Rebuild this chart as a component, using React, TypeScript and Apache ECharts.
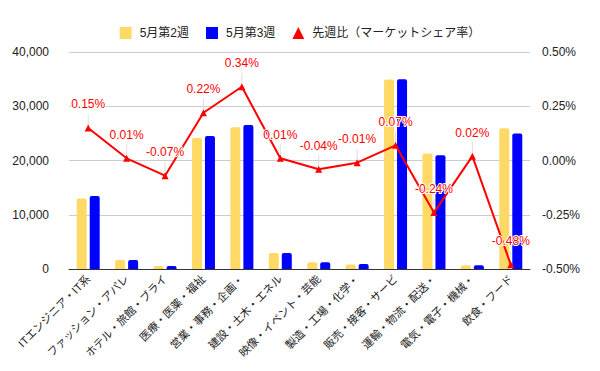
import React, { useEffect, useRef } from "react";
import * as echarts from "echarts";

const categories = [
  "ITエンジニア・IT系",
  "ファッション・アパレ",
  "ホテル・旅館・ブライ",
  "医療・医薬・福祉",
  "営業・事務・企画・",
  "建設・土木・エネル",
  "映像・イベント・芸能",
  "製造・工場・化学・",
  "販売・接客・サービ",
  "運輸・物流・配送・",
  "電気・電子・機械・",
  "飲食・フード",
];
const week2 = [13000, 1650, 550, 24150, 26150, 2950, 1250, 850, 34950, 21300, 700, 25950];
const week3 = [13450, 1650, 550, 24500, 26550, 2950, 1250, 900, 35000, 20950, 700, 25000];
const share = [0.15, 0.01, -0.07, 0.22, 0.34, 0.01, -0.04, -0.01, 0.07, -0.24, 0.02, -0.48];
const seriesNames = ["5月第2週", "5月第3週", "先週比（マーケットシェア率）"];

const FONT = "Arial, 'Liberation Sans', 'Noto Sans CJK JP', sans-serif";

export default function App() {
  const ref = useRef<HTMLDivElement>(null);
  useEffect(() => {
    if (!ref.current) return;
    const chart = echarts.init(ref.current, undefined, { renderer: "svg" });
    chart.setOption({
      animation: false,
      textStyle: { fontFamily: FONT },
      legend: {
        top: 22,
        left: "center",
        itemWidth: 12,
        itemHeight: 12,
        itemGap: 17,
        textStyle: { fontSize: 12, color: "#222", padding: [0, 0, 0, 3], fontFamily: FONT },
        data: [
          { name: seriesNames[0], icon: "rect" },
          { name: seriesNames[1], icon: "rect" },
          { name: seriesNames[2], icon: "triangle" },
        ],
      },
      grid: { left: 69, right: 70, top: 52, bottom: 102 },
      xAxis: {
        type: "category",
        data: categories,
        axisLine: { lineStyle: { color: "#333", width: 1 } },
        axisTick: { show: false },
        axisLabel: { interval: 0, rotate: 45, fontSize: 11, color: "#222", margin: 8, fontFamily: FONT },
      },
      yAxis: [
        {
          type: "value",
          min: 0,
          max: 40000,
          interval: 10000,
          axisLabel: {
            fontSize: 12,
            color: "#222",
            margin: 20,
            fontFamily: FONT,
            formatter: (v: number) => v.toLocaleString("en-US"),
          },
          splitLine: { lineStyle: { color: "#cccccc" } },
          axisLine: { show: false },
          axisTick: { show: false },
        },
        {
          type: "value",
          min: -0.5,
          max: 0.5,
          interval: 0.25,
          axisLabel: {
            fontSize: 12,
            color: "#222",
            margin: 12,
            fontFamily: FONT,
            formatter: (v: number) => v.toFixed(2) + "%",
          },
          splitLine: { show: false },
          axisLine: { show: false },
          axisTick: { show: false },
        },
      ],
      series: [
        {
          name: seriesNames[0],
          type: "bar",
          data: week2,
          barWidth: 10,
          barGap: "30%",
          itemStyle: { color: "#ffd966", borderRadius: [2, 2, 0, 0] },
        },
        {
          name: seriesNames[1],
          type: "bar",
          data: week3,
          barWidth: 10,
          barGap: "30%",
          itemStyle: { color: "#0000ff", borderRadius: [2, 2, 0, 0] },
        },
        {
          name: "stem",
          type: "custom",
          yAxisIndex: 1,
          z: 3,
          data: share.map((v, i) => [i, v]),
          encode: { x: 0, y: 1 },
          renderItem: (params: any, api: any) => {
            const p = api.coord([api.value(0), api.value(1)]);
            return {
              type: "line",
              shape: { x1: p[0], y1: p[1] - 3, x2: p[0], y2: p[1] - 14 },
              style: { stroke: "#dddddd", lineWidth: 1 },
            };
          },
        },
        {
          name: seriesNames[2],
          type: "line",
          yAxisIndex: 1,
          data: share,
          z: 5,
          symbol: "triangle",
          symbolSize: 7,
          lineStyle: { color: "#ff0000", width: 2 },
          itemStyle: { color: "#ff0000" },
          label: {
            show: true,
            position: "top",
            distance: 14,
            fontSize: 12,
            color: "#ff0000",
            textBorderColor: "#ffffff",
            textBorderWidth: 2,
            fontFamily: FONT,
            formatter: (p: any) => p.value.toFixed(2) + "%",
          },
        },
      ],
    });
    return () => chart.dispose();
  }, []);
  return <div ref={ref} style={{ width: 600, height: 371, position: "absolute", left: 0, top: 0 }} />;
}
